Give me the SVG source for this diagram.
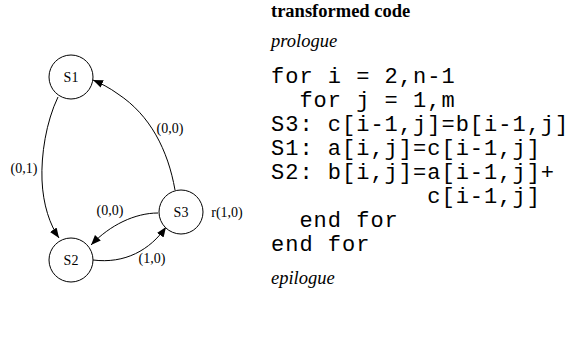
<svg xmlns="http://www.w3.org/2000/svg" width="579" height="340" viewBox="0 0 579 340">
<style>
.node{fill:#fff;stroke:#000;stroke-width:1}
.nl{font-family:"Liberation Serif",serif;font-size:14px;text-anchor:middle;fill:#000}
.el{font-family:"Liberation Serif",serif;font-size:14px;text-anchor:middle;fill:#000}
.edge{fill:none;stroke:#000;stroke-width:1}
.code{font-family:"Liberation Mono",monospace;font-size:22px;letter-spacing:1px;fill:#000;white-space:pre}
.title{font-family:"Liberation Serif",serif;font-size:18.5px;font-weight:bold;fill:#000}
.it{font-family:"Liberation Serif",serif;font-size:18.5px;font-style:italic;fill:#000}
</style>
<defs>
<marker id="ah" viewBox="0 0 10 8" refX="10" refY="4" markerWidth="10" markerHeight="8" markerUnits="userSpaceOnUse" orient="auto">
<path d="M0,0 L10,4 L0,8 Z" fill="#000"/>
</marker>
</defs>
<g id="connectors">
<path class="edge" marker-end="url(#ah)" d="M58,97 C46,122 41,155 42,180 C43,205 50,225 59,238"/>
<path class="edge" marker-end="url(#ah)" d="M175,190 C168,150 150,115 118,94 C110,88 100,83 93,80"/>
<path class="edge" marker-end="url(#ah)" d="M158,213 C135,213 110,225 91,245"/>
<path class="edge" marker-end="url(#ah)" d="M93,260 C125,264 150,250 166,227"/>
</g>
<g id="S1"><circle class="node" cx="71" cy="77" r="22"/><text class="nl" x="71" y="82">S1</text></g>
<g id="S2"><circle class="node" cx="71" cy="260" r="22"/><text class="nl" x="71" y="265">S2</text></g>
<g id="S3"><circle class="node" cx="181" cy="212" r="22"/><text class="nl" x="181" y="217">S3</text></g>
<g id="labels">
<text class="el" x="24" y="173">(0,1)</text>
<text class="el" x="170" y="133">(0,0)</text>
<text class="el" x="110" y="215">(0,0)</text>
<text class="el" x="152" y="263">(1,0)</text>
<text class="el" x="227" y="217">r(1,0)</text>
</g>
<g id="code">
<text class="title" x="271" y="17">transformed code</text>
<text class="it" x="271" y="47">prologue</text>
<text class="code" x="271" y="83">for i = 2,n-1</text>
<text class="code" x="271" y="107">  for j = 1,m</text>
<text class="code" x="271" y="131">S3: c[i-1,j]=b[i-1,j]</text>
<text class="code" x="271" y="155">S1: a[i,j]=c[i-1,j]</text>
<text class="code" x="271" y="179">S2: b[i,j]=a[i-1,j]+</text>
<text class="code" x="271" y="203">           c[i-1,j]</text>
<text class="code" x="271" y="227">  end for</text>
<text class="code" x="271" y="251">end for</text>
<text class="it" x="271" y="284">epilogue</text>
</g>
</svg>
